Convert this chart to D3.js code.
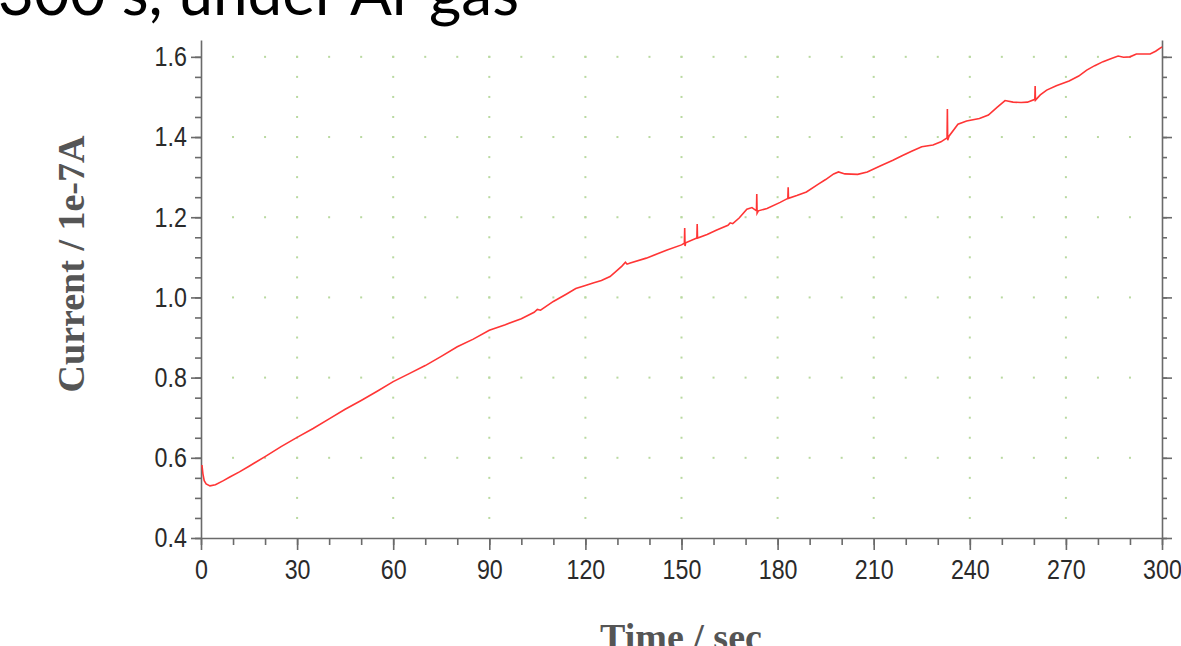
<!DOCTYPE html>
<html lang="en">
<head>
  <meta charset="UTF-8">
  <title>Current vs Time</title>
  <script src="https://d3js.org/d3.v7.min.js"></script>
  <style>
    body { margin: 0; background: #fff; overflow: hidden; }
    svg { display: block; }
    .axis path, .axis line { stroke: #6a6a6a; stroke-width: 1.6; }
    .axis text { font-family: "Liberation Sans", Arial, sans-serif; font-size: 28px; fill: #2a2a2a; }
  </style>
</head>
<body>
  <svg id="chart"></svg>

  <script>
    // time (s) and current (1e-7 A), spikes included
    const times = [0.3, 0.6, 1.0, 1.6, 2.8, 4.5, 7, 9, 12, 15, 20, 25, 30, 35, 40, 45, 50, 55, 60, 65, 70, 75, 80, 85, 90, 95, 100,
      104, 105, 106, 110, 114, 117, 120, 122.4, 125, 127.7, 130, 131.4, 132.5, 133, 134, 139, 145.5, 150, 150.9, 151, 151.1, 151.3,
      154.8, 154.9, 155.0, 158, 161, 164.5, 165.2, 166, 168, 170.4, 172, 173.4, 173.5, 173.6, 174, 176.7, 180.8, 183.2, 183.3, 183.4,
      186, 189, 192.6, 195, 197.5, 199, 201, 205, 208, 212, 216, 219, 222, 225, 228.5, 231, 232.9, 233, 233.1, 233.5, 236.3, 239,
      243, 245.8, 248.5, 251, 253.5, 256, 258, 260.3, 260.4, 260.5, 262, 264, 267, 271, 274, 276.5, 279, 281.6, 284, 286.3, 288,
      290, 292, 296.3, 298, 300];
    const current = [0.582, 0.56, 0.543, 0.535, 0.530, 0.533, 0.543, 0.552, 0.565, 0.579, 0.603, 0.628, 0.651, 0.673, 0.697, 0.721,
      0.743, 0.766, 0.790, 0.810, 0.830, 0.853, 0.877, 0.896, 0.918, 0.932, 0.947,
      0.963, 0.970, 0.968, 0.990, 1.008, 1.022, 1.030, 1.036, 1.042, 1.052, 1.068, 1.078, 1.088, 1.083, 1.086, 1.098, 1.118, 1.131,
      1.135, 1.173, 1.128, 1.136, 1.148, 1.183, 1.148, 1.157, 1.168, 1.180, 1.186, 1.184, 1.198, 1.220, 1.224, 1.216, 1.258, 1.210,
      1.216, 1.222, 1.237, 1.247, 1.275, 1.247, 1.254, 1.263, 1.282, 1.294, 1.308, 1.313, 1.308, 1.307, 1.313, 1.328, 1.342, 1.354,
      1.365, 1.376, 1.380, 1.388, 1.398, 1.470, 1.392, 1.402, 1.432, 1.440, 1.446, 1.455, 1.474, 1.491, 1.487, 1.486, 1.487, 1.494,
      1.527, 1.492, 1.505, 1.517, 1.528, 1.540, 1.552, 1.567, 1.578, 1.588, 1.595, 1.602, 1.599, 1.600, 1.607, 1.607, 1.614, 1.625];

    const xMajor = [0, 30, 60, 90, 120, 150, 180, 210, 240, 270, 300];
    const xMinor = d3.range(0, 301, 10);
    const yMajor = [0.4, 0.6, 0.8, 1.0, 1.2, 1.4, 1.6];
    const yMinor = d3.range(0.4, 1.601, 0.05);

    const width = 1181;
    const height = 646;

    const svg = d3.select("#chart")
      .attr("width", width)
      .attr("height", height);

    const x = d3.scaleLinear().domain([0, 300]).range([201, 1162]);
    const y = d3.scaleLinear().domain([0.4, 1.642]).range([538, 40]);

    // title fragment at the top (cut off by the page edge)
    svg.append("text")
      .attr("x", 519)
      .attr("y", 15)
      .attr("text-anchor", "end")
      .style("font-family", "Lato, 'Open Sans', sans-serif")
      .style("font-size", "62px")
      .style("fill", "#000")
      .text("300 s, under Ar gas");

    // dotted grid
    const grid = svg.append("g").attr("fill", "#b9d9a0");
    yMajor.slice(1).forEach(v => {
      grid.selectAll(null)
        .data(xMinor.filter(t => t > 0 && t < 300))
        .enter().append("rect")
        .attr("x", d => x(d) - 1)
        .attr("y", y(v) - 1)
        .attr("width", 2)
        .attr("height", 2);
    });
    xMajor.slice(1, -1).forEach(t => {
      grid.selectAll(null)
        .data(yMinor.filter(v => v > 0.41))
        .enter().append("rect")
        .attr("x", x(t) - 1)
        .attr("y", d => y(d) - 1)
        .attr("width", 2)
        .attr("height", 2);
    });

    // axes
    const squeeze = sel => sel.selectAll("text").attr("transform", "scale(0.83,1)");

    svg.append("g")
      .attr("class", "axis")
      .attr("transform", `translate(0,${y(0.4)})`)
      .call(d3.axisBottom(x).tickValues(xMinor).tickSize(7).tickSizeOuter(0).tickFormat(""))
      .call(g => g.select(".domain").remove());

    svg.append("g")
      .attr("class", "axis")
      .attr("transform", `translate(0,${y(0.4)})`)
      .call(d3.axisBottom(x).tickValues(xMajor).tickSize(12).tickSizeOuter(0).tickPadding(9).tickFormat(d3.format("d")))
      .call(squeeze);

    svg.append("g")
      .attr("class", "axis")
      .attr("transform", `translate(${x(0)},0)`)
      .call(d3.axisLeft(y).tickValues(yMinor).tickSize(6).tickSizeOuter(0).tickFormat(""))
      .call(g => g.select(".domain").remove());

    svg.append("g")
      .attr("class", "axis")
      .attr("transform", `translate(${x(0)},0)`)
      .call(d3.axisLeft(y).tickValues(yMajor).tickSize(10).tickSizeOuter(0).tickPadding(7).tickFormat(d3.format(".1f")))
      .call(squeeze);

    svg.append("g")
      .attr("class", "axis")
      .attr("transform", `translate(${x(300)},0)`)
      .call(d3.axisRight(y).tickValues(yMinor).tickSize(5).tickSizeOuter(0).tickFormat(""))
      .call(g => g.select(".domain").remove());

    svg.append("g")
      .attr("class", "axis")
      .attr("transform", `translate(${x(300)},0)`)
      .call(d3.axisRight(y).tickValues(yMajor).tickSize(10).tickSizeOuter(0).tickFormat(""));

    // axis titles
    svg.append("text")
      .attr("transform", `translate(84,${264}) rotate(-90)`)
      .attr("text-anchor", "middle")
      .style("font-family", "'Liberation Serif', 'Times New Roman', serif")
      .style("font-weight", "bold")
      .style("font-size", "38px")
      .style("fill", "#555")
      .text("Current / 1e-7A");

    svg.append("text")
      .attr("x", 681)
      .attr("y", 650)
      .attr("text-anchor", "middle")
      .style("font-family", "'Liberation Serif', 'Times New Roman', serif")
      .style("font-weight", "bold")
      .style("font-size", "38px")
      .style("fill", "#555")
      .text("Time / sec");

    // current trace
    const line = d3.line()
      .x((d, i) => x(times[i]))
      .y(d => y(d));

    svg.append("path")
      .datum(current)
      .attr("fill", "none")
      .attr("stroke", "#ff3535")
      .attr("stroke-width", 1.6)
      .attr("d", line);
  </script>
</body>
</html>
